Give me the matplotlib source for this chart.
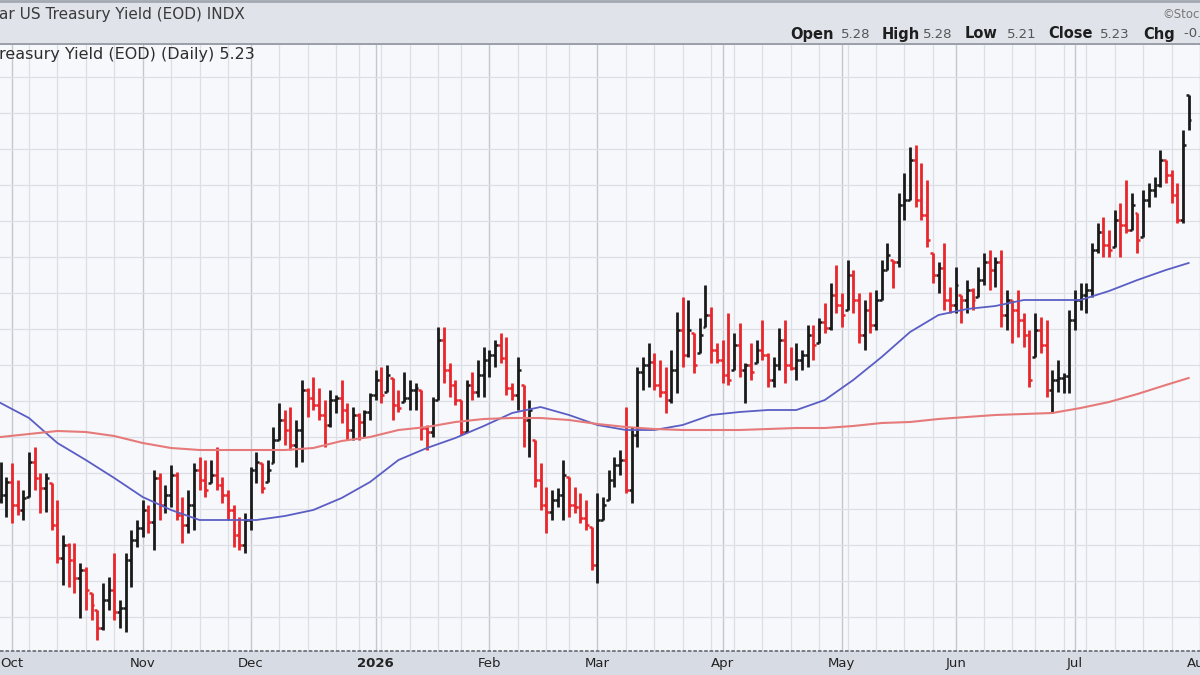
import numpy as np
import pandas as pd
import matplotlib
matplotlib.use("Agg")
import matplotlib.pyplot as plt
from matplotlib.patches import Rectangle
from matplotlib.lines import Line2D

# daily OHLC bars (yield, %)
highs = [4.546, 4.516, 4.544, 4.510, 4.490, 4.566, 4.576, 4.524, 4.524, 4.504,
         4.470, 4.400, 4.384, 4.384, 4.344, 4.336, 4.284, 4.250, 4.304, 4.316,
         4.364, 4.270, 4.364, 4.410, 4.430, 4.470, 4.460, 4.530, 4.524, 4.500,
         4.540, 4.526, 4.476, 4.490, 4.544, 4.556, 4.550, 4.550, 4.576, 4.516,
         4.490, 4.460, 4.436, 4.444, 4.536, 4.566, 4.544, 4.550, 4.616, 4.664,
         4.650, 4.656, 4.630, 4.710, 4.694, 4.716, 4.694, 4.670, 4.690, 4.680,
         4.710, 4.664, 4.656, 4.644, 4.650, 4.684, 4.730, 4.736, 4.740, 4.714,
         4.690, 4.726, 4.710, 4.704, 4.690, 4.620, 4.676, 4.816, 4.816, 4.744,
         4.710, 4.670, 4.710, 4.726, 4.750, 4.776, 4.770, 4.790, 4.804, 4.796,
         4.704, 4.756, 4.700, 4.670, 4.590, 4.544, 4.496, 4.490, 4.494, 4.550,
         4.516, 4.496, 4.484, 4.470, 4.416, 4.484, 4.476, 4.530, 4.556, 4.570,
         4.656, 4.616, 4.736, 4.756, 4.784, 4.764, 4.750, 4.736, 4.770, 4.846,
         4.876, 4.870, 4.804, 4.834, 4.900, 4.856, 4.784, 4.790, 4.844, 4.804,
         4.824, 4.744, 4.784, 4.790, 4.830, 4.764, 4.756, 4.814, 4.830, 4.776,
         4.784, 4.770, 4.820, 4.820, 4.834, 4.864, 4.904, 4.940, 4.884, 4.950,
         4.930, 4.884, 4.870, 4.886, 4.890, 4.950, 4.984, 4.950, 5.084, 5.124,
         5.176, 5.180, 5.144, 5.110, 4.964, 4.946, 4.984, 4.896, 4.936, 4.880,
         4.910, 4.894, 4.936, 4.964, 4.970, 4.956, 4.970, 4.890, 4.870, 4.890,
         4.844, 4.810, 4.844, 4.836, 4.830, 4.730, 4.750, 4.724, 4.850, 4.890,
         4.904, 4.904, 4.984, 5.024, 5.036, 5.010, 5.050, 5.064, 5.110, 5.084,
         5.044, 5.090, 5.104, 5.116, 5.170, 5.150, 5.130, 5.104, 5.210, 5.280]

lows = [4.464, 4.436, 4.424, 4.440, 4.430, 4.476, 4.490, 4.444, 4.446, 4.410,
        4.344, 4.300, 4.296, 4.284, 4.234, 4.250, 4.230, 4.190, 4.210, 4.250,
        4.230, 4.214, 4.206, 4.296, 4.376, 4.396, 4.404, 4.370, 4.430, 4.444,
        4.456, 4.430, 4.384, 4.404, 4.410, 4.490, 4.476, 4.504, 4.490, 4.464,
        4.430, 4.376, 4.370, 4.364, 4.410, 4.504, 4.484, 4.506, 4.544, 4.590,
        4.580, 4.570, 4.536, 4.546, 4.636, 4.650, 4.630, 4.576, 4.616, 4.644,
        4.624, 4.590, 4.590, 4.590, 4.596, 4.630, 4.670, 4.664, 4.686, 4.630,
        4.646, 4.666, 4.650, 4.650, 4.590, 4.570, 4.596, 4.670, 4.704, 4.676,
        4.660, 4.600, 4.606, 4.670, 4.676, 4.676, 4.716, 4.736, 4.744, 4.680,
        4.670, 4.650, 4.576, 4.556, 4.496, 4.450, 4.404, 4.430, 4.456, 4.430,
        4.436, 4.444, 4.424, 4.410, 4.330, 4.304, 4.430, 4.470, 4.496, 4.520,
        4.484, 4.464, 4.576, 4.690, 4.696, 4.690, 4.676, 4.644, 4.664, 4.684,
        4.736, 4.756, 4.724, 4.764, 4.816, 4.744, 4.744, 4.704, 4.700, 4.730,
        4.716, 4.664, 4.710, 4.744, 4.750, 4.696, 4.696, 4.730, 4.704, 4.730,
        4.710, 4.730, 4.736, 4.750, 4.784, 4.804, 4.810, 4.844, 4.816, 4.850,
        4.844, 4.784, 4.770, 4.804, 4.810, 4.870, 4.930, 4.894, 4.936, 5.030,
        5.070, 5.056, 5.030, 4.976, 4.904, 4.884, 4.850, 4.844, 4.844, 4.824,
        4.844, 4.850, 4.876, 4.900, 4.890, 4.896, 4.816, 4.810, 4.784, 4.796,
        4.776, 4.696, 4.756, 4.764, 4.676, 4.644, 4.686, 4.684, 4.684, 4.810,
        4.850, 4.844, 4.876, 4.964, 4.956, 4.956, 4.976, 4.956, 5.004, 5.010,
        4.964, 4.996, 5.056, 5.076, 5.096, 5.104, 5.064, 5.024, 5.024, 5.210]

closes = [4.480, 4.506, 4.460, 4.450, 4.474, 4.546, 4.514, 4.494, 4.514, 4.420,
          4.354, 4.380, 4.350, 4.314, 4.330, 4.290, 4.260, 4.214, 4.270, 4.290,
          4.246, 4.254, 4.350, 4.390, 4.414, 4.450, 4.426, 4.514, 4.460, 4.480,
          4.520, 4.440, 4.420, 4.460, 4.530, 4.510, 4.490, 4.520, 4.500, 4.480,
          4.450, 4.400, 4.380, 4.430, 4.530, 4.546, 4.494, 4.530, 4.590, 4.630,
          4.610, 4.580, 4.610, 4.690, 4.674, 4.660, 4.640, 4.620, 4.670, 4.674,
          4.650, 4.610, 4.640, 4.626, 4.646, 4.680, 4.710, 4.680, 4.720, 4.660,
          4.654, 4.674, 4.690, 4.694, 4.614, 4.606, 4.670, 4.790, 4.730, 4.700,
          4.670, 4.606, 4.700, 4.686, 4.720, 4.750, 4.760, 4.780, 4.754, 4.694,
          4.680, 4.730, 4.630, 4.650, 4.510, 4.460, 4.446, 4.470, 4.480, 4.520,
          4.460, 4.456, 4.434, 4.420, 4.340, 4.430, 4.460, 4.510, 4.540, 4.550,
          4.490, 4.600, 4.726, 4.740, 4.746, 4.700, 4.686, 4.670, 4.730, 4.810,
          4.760, 4.810, 4.740, 4.800, 4.840, 4.770, 4.750, 4.720, 4.710, 4.780,
          4.730, 4.740, 4.726, 4.770, 4.760, 4.710, 4.740, 4.790, 4.740, 4.734,
          4.750, 4.760, 4.800, 4.780, 4.826, 4.814, 4.880, 4.860, 4.840, 4.920,
          4.870, 4.800, 4.850, 4.820, 4.870, 4.930, 4.960, 4.946, 5.060, 5.070,
          5.150, 5.070, 5.040, 4.990, 4.920, 4.934, 4.870, 4.860, 4.900, 4.870,
          4.890, 4.870, 4.910, 4.946, 4.930, 4.946, 4.840, 4.870, 4.850, 4.830,
          4.800, 4.710, 4.810, 4.780, 4.690, 4.710, 4.714, 4.718, 4.830, 4.870,
          4.880, 4.890, 4.970, 5.006, 4.980, 4.970, 5.030, 5.020, 5.010, 5.060,
          4.990, 5.070, 5.090, 5.100, 5.150, 5.120, 5.080, 5.030, 5.180, 5.230]

opens = [4.470, 4.480, 4.506, 4.460, 4.450, 4.474, 4.546, 4.514, 4.494, 4.514,
         4.420, 4.354, 4.380, 4.350, 4.314, 4.330, 4.290, 4.260, 4.214, 4.270,
         4.290, 4.246, 4.254, 4.350, 4.390, 4.414, 4.450, 4.426, 4.514, 4.460,
         4.480, 4.520, 4.440, 4.420, 4.460, 4.530, 4.510, 4.490, 4.520, 4.500,
         4.480, 4.450, 4.400, 4.380, 4.430, 4.530, 4.546, 4.494, 4.530, 4.590,
         4.630, 4.610, 4.580, 4.610, 4.690, 4.674, 4.660, 4.640, 4.620, 4.670,
         4.674, 4.650, 4.610, 4.640, 4.626, 4.646, 4.680, 4.710, 4.680, 4.720,
         4.660, 4.654, 4.674, 4.690, 4.694, 4.614, 4.606, 4.670, 4.790, 4.730,
         4.700, 4.670, 4.606, 4.700, 4.686, 4.720, 4.750, 4.760, 4.780, 4.754,
         4.694, 4.680, 4.730, 4.630, 4.650, 4.510, 4.460, 4.446, 4.470, 4.480,
         4.520, 4.460, 4.456, 4.434, 4.420, 4.340, 4.430, 4.460, 4.510, 4.540,
         4.550, 4.490, 4.600, 4.726, 4.740, 4.746, 4.700, 4.686, 4.670, 4.730,
         4.810, 4.760, 4.810, 4.740, 4.800, 4.840, 4.770, 4.750, 4.720, 4.710,
         4.780, 4.730, 4.740, 4.726, 4.770, 4.760, 4.710, 4.740, 4.790, 4.740,
         4.734, 4.750, 4.760, 4.800, 4.780, 4.826, 4.814, 4.880, 4.860, 4.840,
         4.920, 4.870, 4.800, 4.850, 4.820, 4.870, 4.930, 4.960, 4.946, 5.060,
         5.070, 5.150, 5.070, 5.040, 4.990, 4.920, 4.934, 4.870, 4.860, 4.900,
         4.870, 4.890, 4.870, 4.910, 4.946, 4.930, 4.946, 4.840, 4.870, 4.850,
         4.830, 4.800, 4.710, 4.810, 4.780, 4.690, 4.710, 4.714, 4.718, 4.830,
         4.870, 4.880, 4.890, 4.970, 5.006, 4.980, 4.970, 5.030, 5.020, 5.010,
         5.060, 4.990, 5.070, 5.090, 5.100, 5.150, 5.120, 5.080, 5.030, 5.280]

# moving averages, sampled every 5th bar
ma_idx = list(range(0, 206, 5)) + [209]
ma50 = [4.664, 4.634, 4.584, 4.550, 4.514, 4.476, 4.450, 4.430, 4.430, 4.430,
        4.438, 4.450, 4.474, 4.506, 4.550, 4.574, 4.594, 4.618, 4.644, 4.656,
        4.640, 4.620, 4.610, 4.610, 4.620, 4.640, 4.646, 4.650, 4.650, 4.670,
        4.710, 4.756, 4.806, 4.840, 4.852, 4.858, 4.870, 4.870, 4.870, 4.888,
        4.910, 4.930, 4.944]
ma200 = [4.596, 4.602, 4.608, 4.606, 4.598, 4.584, 4.574, 4.570, 4.570, 4.570,
         4.570, 4.574, 4.588, 4.596, 4.610, 4.616, 4.626, 4.632, 4.634, 4.634,
         4.630, 4.622, 4.616, 4.612, 4.610, 4.610, 4.610, 4.612, 4.614, 4.614,
         4.618, 4.624, 4.626, 4.632, 4.636, 4.640, 4.642, 4.644, 4.654, 4.666,
         4.682, 4.700, 4.714]

holidays = ["2025-11-27", "2025-12-25", "2026-01-01", "2026-01-19", "2026-02-16",
            "2026-04-03", "2026-05-25", "2026-06-19", "2026-07-03"]
dates = pd.bdate_range("2025-09-29", periods=len(closes) + 3, freq="C", holidays=holidays)

W, H = 1200, 675
fig = plt.figure(figsize=(12, 6.75), dpi=100, facecolor="#d7dbe3")

def px(x, y):
    return x / W, 1 - y / H

# header band
fig.patches.append(Rectangle((0, 1 - 44 / H), 1, 44 / H, transform=fig.transFigure,
                             fc="#e0e3ea", ec="none", zorder=0))
fig.add_artist(Line2D([0, 1], [1 - 1 / H] * 2, transform=fig.transFigure, color="#a4a8b0", lw=2))
fig.add_artist(Line2D([0, 1], [1 - 44 / H] * 2, transform=fig.transFigure, color="#8f949d", lw=1.2))

ax = fig.add_axes([0, 24 / H, 1, 606 / H])
ax.set_facecolor("#f7f8fb")
for s in ax.spines.values():
    s.set_visible(False)

x = np.arange(len(closes))
o = np.array(opens); hi = np.array(highs); lo = np.array(lows); c = np.array(closes)
prev = np.r_[o[0], c[:-1]]
cols = np.where(c >= prev, "#1a1a1a", "#e8262b")

ax.vlines(x, lo, hi, colors=cols, lw=2.0, zorder=2)
ax.hlines(np.clip(o, lo, hi), x - 0.5, x, colors=cols, lw=1.8, zorder=2)
ax.hlines(c, x, x + 0.5, colors=cols, lw=1.8, zorder=2)

ax.plot(ma_idx, ma50, color="#5a5ec4", lw=1.3, zorder=3)
ax.plot(ma_idx, ma200, color="#e67a7a", lw=1.5, zorder=3)

ax.set_xlim(-0.1, 209.7)
ax.set_ylim(4.168, 5.38)

# gridlines: weekly minor, monthly major
d = pd.Series(dates)
week_pos = [i for i in range(1, len(d)) if d[i].weekday() < d[i - 1].weekday()]
month_pos = [i for i in range(1, len(d)) if d[i].month != d[i - 1].month]
labels = [d[i].strftime("%Y") if d[i].month == 1 else d[i].strftime("%b") for i in month_pos]
ax.set_xticks(month_pos)
ax.set_xticklabels(labels)
ax.set_xticks(week_pos, minor=True)
ax.set_yticks(np.arange(4.236, 5.33, 0.072))
ax.grid(which="minor", axis="x", color="#dcdfe5", lw=0.9)
ax.grid(which="major", axis="x", color="#c4c7ce", lw=1.0)
ax.grid(which="major", axis="y", color="#dcdfe5", lw=0.9)
ax.set_axisbelow(True)
ax.tick_params(axis="y", left=False, labelleft=False)
ax.tick_params(axis="x", which="both", length=0, pad=4, labelsize=9.5, labelcolor="#222222")
for t in ax.get_xticklabels():
    if t.get_text().isdigit():
        t.set_fontweight("bold")

fig.add_artist(Line2D([0, 1], [24 / H] * 2, transform=fig.transFigure, color="#6e727a",
                      lw=1.3, ls=(0, (2, 1))))

# header texts (the chart is cropped on both sides, so these run off the edges)
fig.text(*px(-1, 15), "ar US Treasury Yield (EOD) INDX", fontsize=11, color="#3a3a3a", va="center")
fig.text(*px(-1, 55), "reasury Yield (EOD) (Daily) 5.23", fontsize=11.5, color="#2e2e2e", va="center")
fig.text(*px(1162, 14), "\u00a9StockCharts.com", fontsize=8.5, color="#777777", va="center")
parts = [("Open", 790, True), ("5.28", 841, False), ("High", 882, True), ("5.28", 923, False),
         ("Low", 965, True), ("5.21", 1007, False), ("Close", 1048, True), ("5.23", 1100, False),
         ("Chg", 1143, True), ("-0.05 (-0.95%)", 1184, False)]
for txt, xp, bold in parts:
    fig.text(*px(xp, 34), txt, va="center", fontsize=10.5 if bold else 9.5,
             fontweight="bold" if bold else "normal", color="#1e1e1e" if bold else "#555555")

plt.savefig("out.png", dpi=100, facecolor=fig.get_facecolor())
